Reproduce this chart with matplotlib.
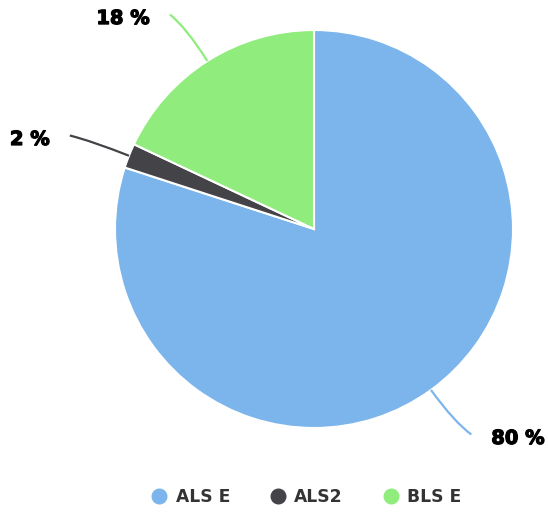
import numpy as np
import matplotlib
matplotlib.use('Agg')
from matplotlib import pyplot as plt
from matplotlib.path import Path
from matplotlib.patches import PathPatch
from matplotlib.lines import Line2D
import matplotlib.patheffects as pe

labels = ['ALS E', 'ALS2', 'BLS E']
shares = [80, 2, 18]
colors = ['#7cb5ec', '#434348', '#90ed7d']

W, H = 548, 512
cx, cy, r = 314, H - 229, 199

fig = plt.figure(figsize=(W / 100, H / 100), dpi=100)
ax = fig.add_axes([0, 0, 1, 1])

wedges, _ = ax.pie(shares, colors=colors, startangle=90, counterclock=False,
                   center=(cx, cy), radius=r,
                   wedgeprops=dict(edgecolor='white', linewidth=1.5))
ax.set_xlim(0, W)
ax.set_ylim(0, H)
ax.set_aspect('equal')
ax.axis('off')

# curved connectors from each slice edge out to its percentage label
for w, share, col in zip(wedges, shares, colors):
    mid = np.deg2rad((w.theta1 + w.theta2) / 2)
    d = np.array([np.cos(mid), np.sin(mid)])
    side = 1 if d[0] >= 0 else -1
    p0 = np.array([cx, cy]) + r * d
    p1 = np.array([cx, cy]) + (r + 40) * d
    p2 = np.array([cx, cy]) + (r + 55) * d + np.array([side * 8, 0])
    path = Path([p0, p1, p2], [Path.MOVETO, Path.CURVE3, Path.CURVE3])
    ax.add_patch(PathPatch(path, fill=False, edgecolor=col, lw=1.6))
    ax.text(p2[0] + side * 20, p2[1] - 4, '{} %'.format(share),
            ha='left' if side > 0 else 'right', va='center',
            fontsize=14, fontweight='bold', color='black',
            path_effects=[pe.withStroke(linewidth=0.9, foreground='black')])

handles = [Line2D([], [], marker='o', ls='', markersize=10.5,
                  markerfacecolor=c, markeredgecolor=c) for c in colors]
ax.legend(handles, labels, loc='center', bbox_to_anchor=(306 / W, 15 / H),
          ncol=3, frameon=False, handlelength=1.0, handletextpad=0.45,
          columnspacing=2.3, borderpad=0, borderaxespad=0,
          prop=dict(size=12.3, weight='bold'), labelcolor='#333333')

plt.savefig('out.png', dpi=100)
plt.close()
